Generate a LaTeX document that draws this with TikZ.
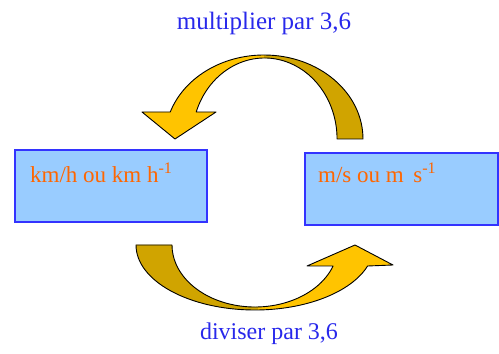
\documentclass[tikz,border=0pt]{standalone}
\usepackage{fontspec}
\setmainfont{LiberationSerif}[Extension=.ttf, UprightFont=*-Regular, BoldFont=*-Bold]
\definecolor{boxfill}{RGB}{153,204,255}
\definecolor{boxline}{RGB}{51,51,255}
\definecolor{unitorange}{RGB}{255,102,0}
\definecolor{labelblue}{RGB}{40,40,235}
\definecolor{goldlight}{RGB}{255,196,0}
\definecolor{golddark}{RGB}{208,164,0}
\tikzset{
  unitbox/.style={draw=boxline, fill=boxfill, line width=1.5pt, inner sep=0pt},
  unittext/.style={text=unitorange, font=\fontsize{23}{27}\selectfont, inner sep=0pt, anchor=base west},
  convlabel/.style={text=labelblue, inner sep=0pt, anchor=base}
}
\begin{document}
\begin{tikzpicture}[x=1pt, y=1pt]
\useasboundingbox (0,0) rectangle (499,354);
% the two unit boxes
\node[unitbox, minimum width=192pt, minimum height=72pt] (kmh) at (111,168) {};
\node[unitbox, minimum width=193pt, minimum height=72pt] (ms) at (401.5,165) {};
\node[unittext] (kmhtext) at (30,171) {km/h ou km h\textsuperscript{-1}};
\node[unittext] (mstext) at (318,171) {m/s ou m~\,s\textsuperscript{-1}};
% upper curved arrow (km/h <- m/s)
\def\toparrow{(363,215) arc[start angle=0, end angle=161.25, x radius=99, y radius=84]
    -- (142,242) -- (175,215) -- (216,242) -- (196.2,242)
    arc[start angle=160.53, end angle=0, x radius=72.5, y radius=81] -- cycle}
\fill[goldlight] \toparrow;
\begin{scope}
  \clip (264,150) rectangle (380,310);
  \fill[golddark] \toparrow;
\end{scope}
\draw[black, line width=0.9pt, line join=round] \toparrow;
% lower curved arrow (km/h -> m/s)
\def\botarrow{(136,109) arc[start angle=180, end angle=341.15, x radius=119, y radius=65]
    -- (393,89) -- (355,109) -- (307,88) -- (333.1,88)
    arc[start angle=340.2, end angle=180, x radius=83, y radius=62] -- cycle}
\fill[goldlight] \botarrow;
\begin{scope}
  \clip (120,30) rectangle (258,120);
  \fill[golddark] \botarrow;
\end{scope}
\draw[black, line width=0.9pt, line join=round] \botarrow;
% conversion labels
\node[convlabel, font=\fontsize{25}{29}\selectfont] (multlabel) at (264,324) {multiplier par 3,6};
\node[convlabel, font=\fontsize{24}{28}\selectfont] (divlabel) at (269,14) {diviser par 3,6};
\end{tikzpicture}
\end{document}
